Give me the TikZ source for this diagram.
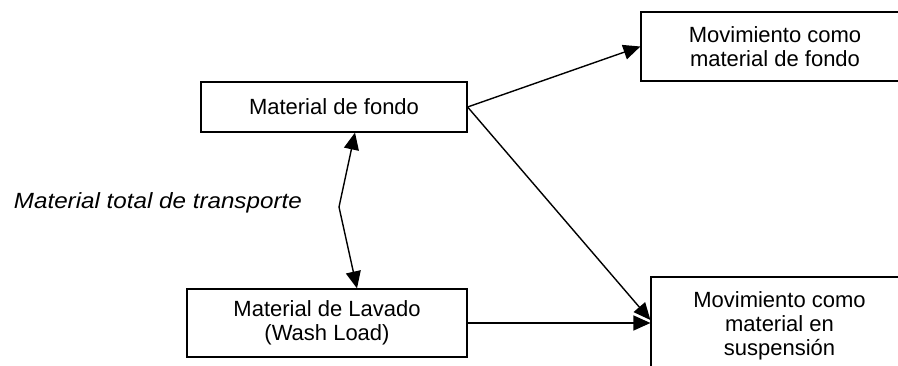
\documentclass[tikz,border=0pt]{standalone}
\usepackage{fontspec}
\usepackage{graphicx}
\setmainfont{Liberation Sans}
\usetikzlibrary{arrows.meta,calc}
\begin{document}
\begin{tikzpicture}[x=1pt,y=1pt,
  box/.style={draw,line width=1.2pt,align=center,inner sep=0pt,
    font=\fontsize{22}{24}\selectfont},
  arr/.style={line width=1.4pt,-{Triangle[length=17pt,width=15pt]}},
  darr/.style={line width=1.4pt,{Triangle[length=17pt,width=15pt]}-{Triangle[length=17pt,width=15pt]}}]
\useasboundingbox (0,0) rectangle (898,365);
\clip (0,0) rectangle (898,365);
\node[box,minimum width=266pt,minimum height=50pt] (f) at (334,258) {Material de fondo};
\node[box,minimum width=280pt,minimum height=68pt] (l) at (327,42) {Material de Lavado\\(Wash Load)};
\node[box,minimum width=268pt,minimum height=69pt] (m1) at (775,318.5) {Movimiento como\\material de fondo};
\node[box,minimum width=257pt,minimum height=98pt] (m2) at (779.5,39) {Movimiento como\\material en\\suspensión};
\node[anchor=base east,inner sep=0pt,font=\fontsize{22}{24}\selectfont\itshape] (t) at (302,157) {\scalebox{1.1}[1]{Material total de transporte}};
\coordinate (ka) at (f.south -| 355,0);
\coordinate (km) at (339,158);
\coordinate (kb) at (l.north -| 357,0);
\draw[darr] (ka) -- (km) -- (kb);
\draw[arr] (f.east) -- (m1.west);
\draw[arr] (f.east) -- ($(m2.west)+(0,6)$);
\draw[arr] (l.east) -- (l.east -| m2.west);
\end{tikzpicture}
\end{document}
